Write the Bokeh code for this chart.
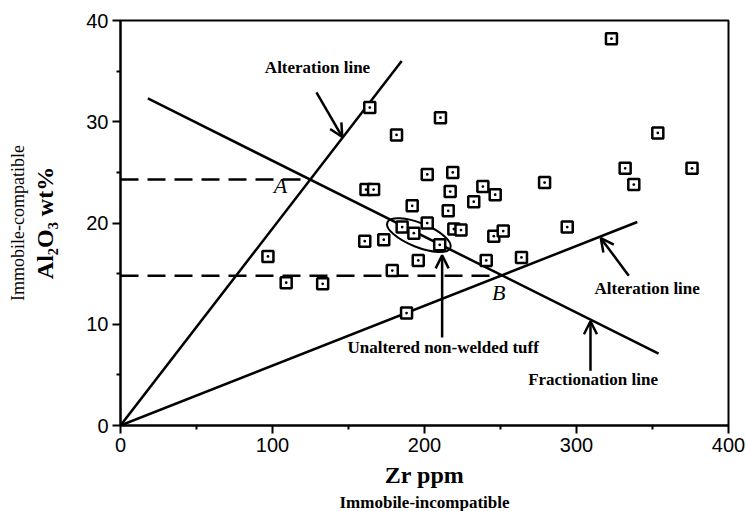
from bokeh.plotting import figure
from bokeh.models import Range1d, FixedTicker, Arrow, OpenHead, ColumnDataSource, Title
from bokeh.core.properties import value
from bokeh.embed import file_html
from bokeh.resources import INLINE

# ---- data ----
zr = [97, 109, 133, 323, 164, 181.6, 210.5, 353.5, 161.5, 166.5,
      201.8, 218.6, 216.9, 238.4, 246.5, 232.4, 191.9, 215.6, 279, 332,
      337.7, 376, 201.8, 185.3, 193, 219.3, 224, 245.6, 251.8, 293.9,
      263.8, 160.7, 173.2, 210, 195.9, 240.6, 178.8, 188.2]
al2o3 = [16.7, 14.1, 14.0, 38.2, 31.4, 28.7, 30.4, 28.9, 23.3, 23.3,
         24.8, 25.0, 23.1, 23.6, 22.8, 22.1, 21.7, 21.2, 24.0, 25.4,
         23.8, 25.4, 20.0, 19.6, 19.0, 19.4, 19.3, 18.7, 19.2, 19.6,
         16.6, 18.2, 18.35, 17.85, 16.3, 16.3, 15.3, 11.1]

# lines (endpoints)
alt1_x = [0, 185]
alt1_y = [0, 36.0]
alt2_x = [0, 340]
alt2_y = [0, 20.1]
frac_x = [18, 354]
frac_y = [32.3, 7.1]
dashA_x = [0, 124.6]
dashA_y = [24.3, 24.3]
dashB_x = [0, 250.9]
dashB_y = [14.8, 14.8]

# ellipse around unaltered tuff
ell_x = [196.3]
ell_y = [18.8]

# annotations
ann_text = ["Alteration line", "Alteration line", "Fractionation line", "Unaltered non-welded tuff"]
ann_x = [129.6, 346.5, 310.9, 212.3]
ann_y = [35.4, 13.5, 4.5, 7.7]
arr_x0 = [128.9, 334.4, 309.2, 211.6]
arr_y0 = [32.9, 14.8, 5.4, 8.7]
arr_x1 = [145.9, 316.0, 309.2, 211.6]
arr_y1 = [28.5, 18.5, 10.3, 16.8]
pt_text = ["A", "B"]
pt_x = [105.3, 248.9]
pt_y = [23.7, 13.1]

x_ticks = [0, 100, 200, 300, 400]
x_minor = [50, 150, 250, 350]
y_ticks = [0, 10, 20, 30, 40]
y_minor = [5, 15, 25, 35]

# ---- figure ----
p = figure(width=746, height=511, output_backend="svg", toolbar_location=None,
           x_range=Range1d(0, 400), y_range=Range1d(0, 40),
           min_border_left=120, min_border_right=18, min_border_top=20, min_border_bottom=86)
p.grid.visible = False
p.outline_line_color = "black"
p.outline_line_width = 2
p.background_fill_color = "white"
p.border_fill_color = "white"

for ax, ticks, minor in ((p.xaxis[0], x_ticks, x_minor), (p.yaxis[0], y_ticks, y_minor)):
    ax.ticker = FixedTicker(ticks=ticks, minor_ticks=minor)
    ax.axis_line_width = 2
    ax.major_tick_line_width = 2
    ax.minor_tick_line_width = 2
    ax.major_tick_in = 0
    ax.major_tick_out = 8
    ax.minor_tick_in = 0
    ax.minor_tick_out = 4
    ax.major_label_text_font = "Liberation Sans"
    ax.major_label_text_font_size = "20px"
    ax.major_label_text_color = "black"
    ax.major_label_standoff = 4
    ax.axis_label_text_font = "Liberation Serif"
    ax.axis_label_text_font_style = "bold"
    ax.axis_label_text_font_size = "24px"
    ax.axis_label_text_color = "black"

p.xaxis[0].axis_label = "Zr ppm"
p.xaxis[0].axis_label_standoff = 7
p.yaxis[0].axis_label = "Al₂O₃ wt%"
p.yaxis[0].axis_label_standoff = 25

p.add_layout(Title(text="Immobile-incompatible", align="center", text_font="Liberation Serif",
                   text_font_style="bold", text_font_size="17px", text_color="black",
                   standoff=0), "below")
p.add_layout(Title(text="Immobile-compatible", align="center", text_font="Liberation Serif",
                   text_font_style="normal", text_font_size="18px", text_color="black",
                   standoff=3), "left")

lw = 2.5
p.line(alt1_x, alt1_y, line_color="black", line_width=lw)
p.line(alt2_x, alt2_y, line_color="black", line_width=lw)
p.line(frac_x, frac_y, line_color="black", line_width=lw)
p.line(dashA_x, dashA_y, line_color="black", line_width=lw, line_dash="18 9")
p.line(dashB_x, dashB_y, line_color="black", line_width=lw, line_dash="18 9")

p.ellipse(ell_x, ell_y, width=68, height=24, angle=-0.38,
          width_units="screen", height_units="screen",
          fill_color=None, line_color="black", line_width=2)

p.scatter(zr, al2o3, marker="square_dot", size=11, line_color="black",
          line_width=2.5, fill_color="white")

arr_src = ColumnDataSource(dict(x0=arr_x0, y0=arr_y0, x1=arr_x1, y1=arr_y1))
p.add_layout(Arrow(end=OpenHead(size=13, line_width=2.5, line_color="black"),
                   x_start="x0", y_start="y0", x_end="x1", y_end="y1",
                   source=arr_src, line_width=2.5, line_color="black"))

p.text(ann_x, ann_y, text=ann_text, text_font=value("Liberation Serif"),
       text_font_style="bold", text_font_size="17px", text_align="center",
       text_baseline="middle", text_color="black")
p.text(pt_x, pt_y, text=pt_text, text_font=value("Liberation Serif"),
       text_font_style="italic", text_font_size="22px", text_align="center",
       text_baseline="middle", text_color="black")

open("out.html", "w").write(file_html(p, INLINE))
